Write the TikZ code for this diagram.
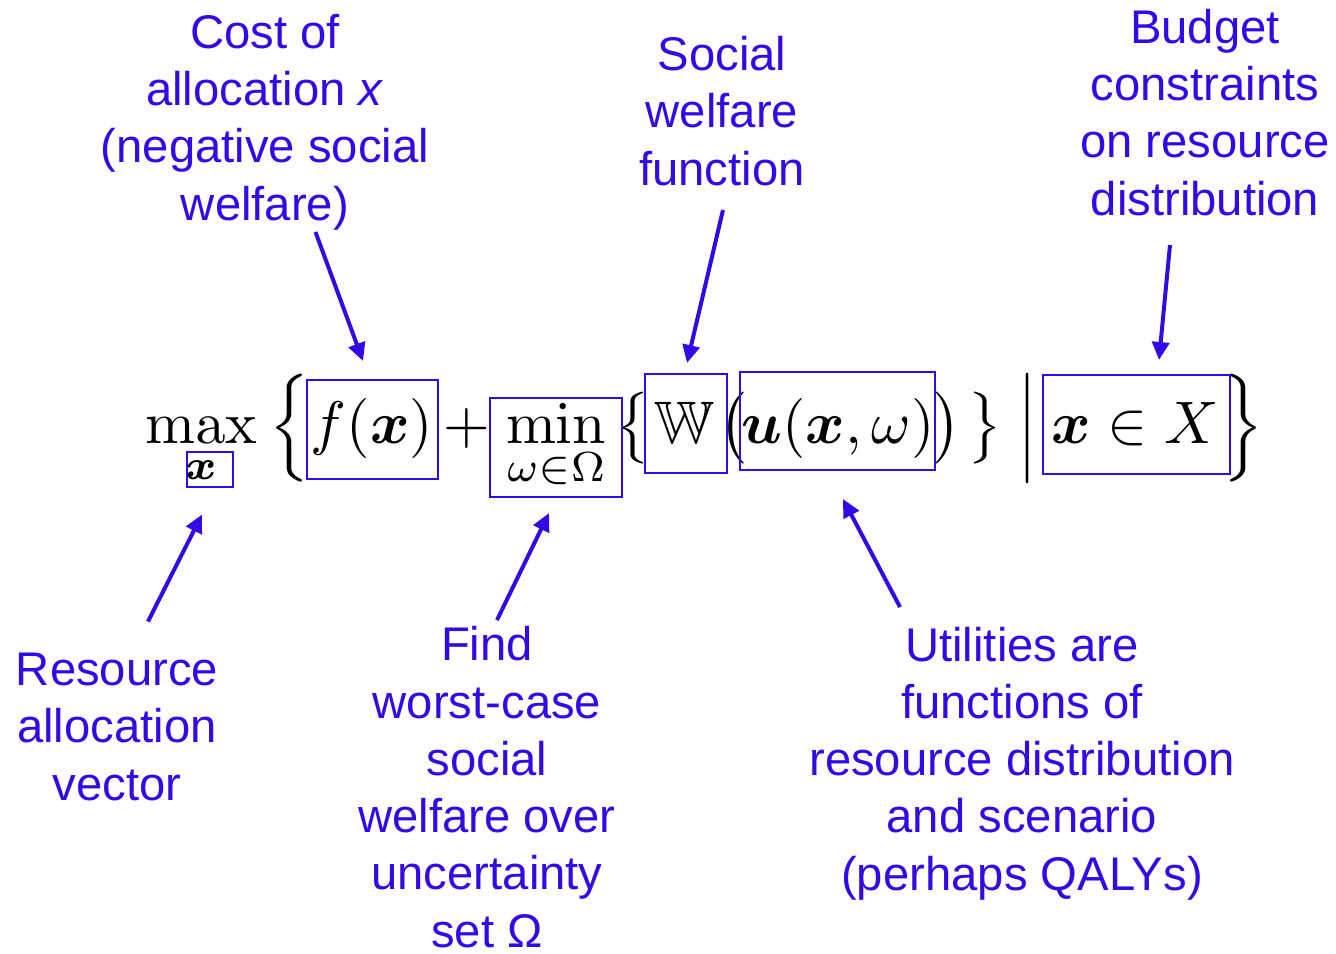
\documentclass[tikz,border=0pt]{standalone}
\usepackage{amsmath,amssymb,bm}
\usepackage{exscale}
\usepackage[no-math]{fontspec}
\setmainfont{Liberation Sans}
\usetikzlibrary{arrows.meta,calc}
\definecolor{myblue}{RGB}{50,10,230}
\begin{document}
\begin{tikzpicture}[x=0.2pt,y=-0.2pt,
  lbl/.style={text=myblue, font=\fontsize{9.45}{11.45}\selectfont, align=center, inner sep=0pt, anchor=base},
  mth/.style={inner sep=0pt, outer sep=0pt, anchor=base, scale=1.2, font=\fontsize{10}{12}\selectfont},
  hl/.style={draw=myblue, line width=0.4pt, inner sep=0pt, outer sep=0pt},
  arr/.style={draw=myblue, line width=0.8pt, -{Triangle[length=3.6pt,width=3.4pt]}}]
\useasboundingbox (0,0) rectangle (1336,953);
% formula pieces
\node[mth] (nmax) at (201,443) {$\displaystyle\max_{\bm{x}}$};
\node[mth] (nlb) at (289,443) {$\Big\{$};
\node[mth] (nf) at (372,443) {$f(\bm{x})$};
\node[mth] (nplus) at (467,443) {$+$};
\node[mth] (nmin) at (556,443) {$\displaystyle\min_{\omega\in\Omega}$};
\node[mth] (nlb2) at (633,443) {$\big\{$};
\node[mth] (nW) at (684,443) {$\mathbb{W}$};
\node[mth] (nlp) at (733,443) {$\big($};
\node[mth] (nu) at (838,443) {$\bm{u}(\bm{x},\omega)$};
\node[mth] (nrp) at (947,443) {$\big)$};
\node[mth] (nrb2) at (985,443) {$\big\}$};
\node[mth] (nbar) at (1027,443) {$\Big|$};
\node[mth] (nX) at (1135,443) {$\bm{x}\in X$};
\node[mth] (nrb) at (1243,443) {$\Big\}$};
% highlight boxes
\node[hl, minimum width=9.2pt, minimum height=7pt] (bx) at (210,469) {};
\node[hl, minimum width=26.2pt, minimum height=19.8pt] (bf) at (372.5,429.5) {};
\node[hl, minimum width=26.4pt, minimum height=19.8pt] (bmin) at (556,447.5) {};
\node[hl, minimum width=16.4pt, minimum height=19.8pt] (bW) at (686,423.5) {};
\node[hl, minimum width=39pt, minimum height=19.6pt] (bu) at (837.5,421) {};
\node[hl, minimum width=37.4pt, minimum height=19.8pt] (bX) at (1136.5,424.5) {};
% labels (anchor base = baseline of last line)
\node[lbl] (cost) at (265,220) {Cost of\\allocation \textit{x}\\(negative social\\welfare)};
\node[lbl] (social) at (722,185) {Social\\welfare\\function};
\node[lbl] (budget) at (1205,215) {Budget\\constraints\\on resource\\distribution};
\node[lbl] (resource) at (117,800) {Resource\\allocation\\vector};
\node[lbl] (find) at (487,947) {Find\\worst-case\\social\\welfare over\\uncertainty\\set Ω};
\node[lbl] (util) at (1022,890) {Utilities are\\functions of\\resource distribution\\and scenario\\(perhaps QALYs)};
% arrows
\draw[arr] ($(bf.north)+(-57,-148)$) -- ($(bf.north)+(-9.5,-19)$);
\draw[arr] ($(bW.north)+(37,-164)$) -- ($(bW.north)+(1,-11)$);
\draw[arr] ($(bX.north)+(33.5,-130)$) -- ($(bX.north)+(22.5,-15)$);
\draw[arr] ($(bx.south)+(-62,135)$) -- ($(bx.south)+(-8,28)$);
\draw[arr] ($(bmin.south)+(-59,123)$) -- ($(bmin.south)+(-7,16)$);
\draw[arr] ($(bu.south)+(62.5,137)$) -- ($(bu.south)+(5.5,29)$);
\end{tikzpicture}
\end{document}
